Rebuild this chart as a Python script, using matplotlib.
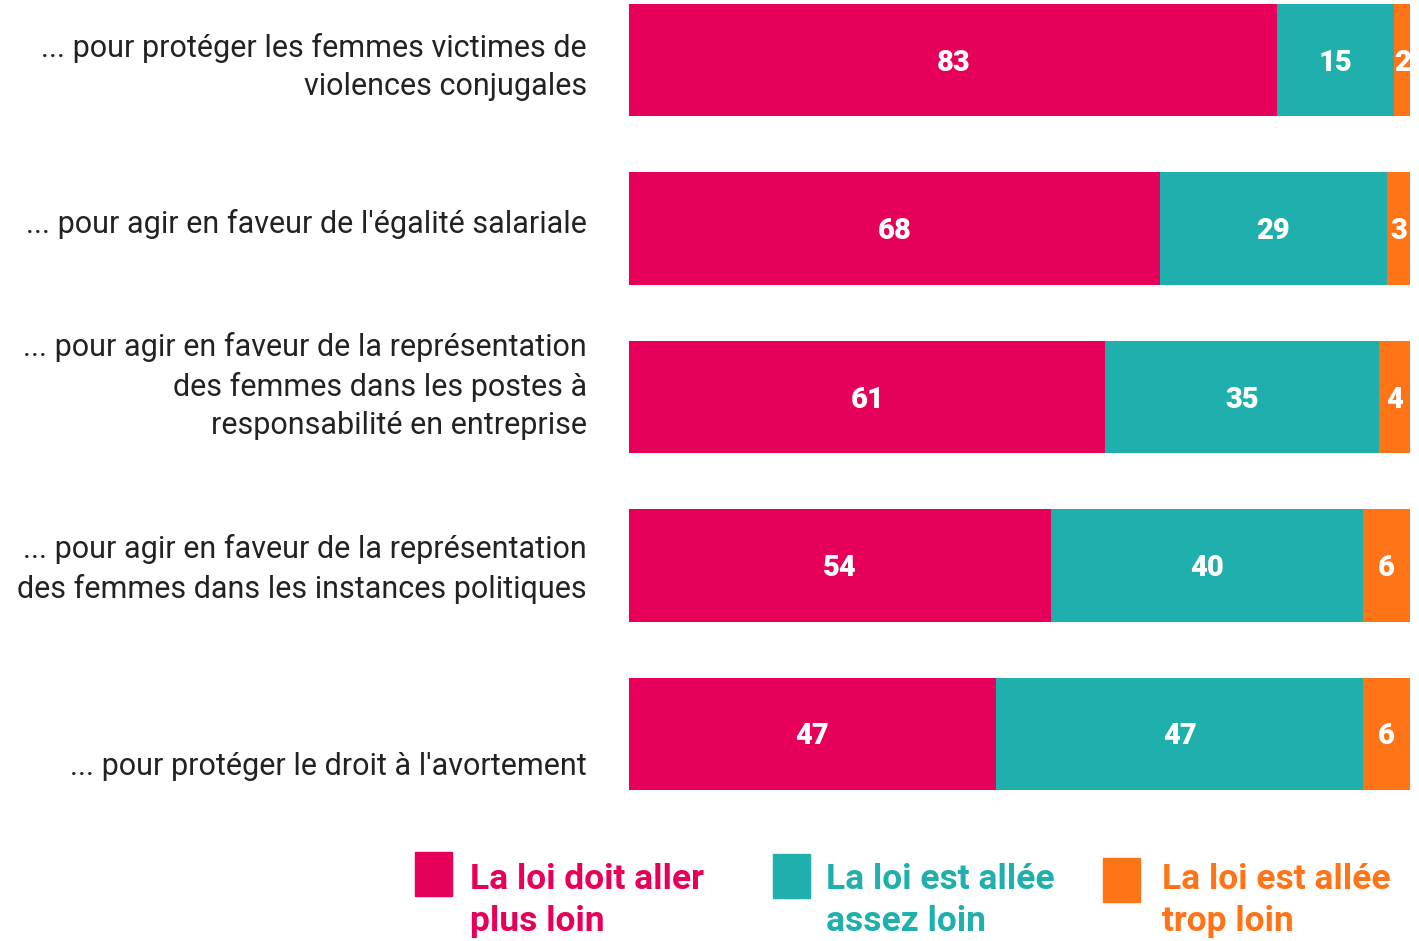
import matplotlib.pyplot as plt
from matplotlib.patches import Rectangle
from matplotlib.transforms import offset_copy

categories = [
    "... pour protéger les femmes victimes de\nviolences conjugales",
    "... pour agir en faveur de l'égalité salariale",
    "... pour agir en faveur de la représentation\ndes femmes dans les postes à\nresponsabilité en entreprise",
    "... pour agir en faveur de la représentation\ndes femmes dans les instances politiques",
    "... pour protéger le droit à l'avortement",
]
plus_loin = [83, 68, 61, 54, 47]
assez_loin = [15, 29, 35, 40, 47]
trop_loin = [2, 3, 4, 6, 6]
series_names = ["La loi doit aller\nplus loin", "La loi est allée\nassez loin", "La loi est allée\ntrop loin"]
colors = ["#E6005A", "#1FB0AE", "#FF7417"]

plt.rcParams['font.family'] = ['Roboto', 'DejaVu Sans']

W, H = 1419, 941
fig = plt.figure(figsize=(W / 100, H / 100), dpi=100)
ax = fig.add_axes([629 / W, 1 - 790 / H, 781 / W, 786 / H])

y = list(range(len(categories)))
left = [0] * len(categories)
for vals, col in zip([plus_loin, assez_loin, trop_loin], colors):
    bars = ax.barh(y, vals, left=left, height=0.667, color=col, clip_on=False)
    for yi, l, v in zip(y, left, vals):
        ax.text(l + v / 2, yi + 0.015, str(v), ha='center', va='center', color='white',
                fontsize=21, fontweight='black', clip_on=False)
    left = [a + b for a, b in zip(left, vals)]

ax.set_xlim(0, 100)
ax.set_ylim(len(categories) - 1 + 0.3335, -0.3335)
ax.axis('off')

# category labels, nudged vertically (pixels, down = positive) as in the original
label_dy = [7, -5, -11, 4, 33]
for yi, txt, dy in zip(y, categories, label_dy):
    tr = offset_copy(ax.transData, fig=fig, x=0, y=-dy * 0.72, units='points')
    ax.text(-42 / 781 * 100, yi, txt, transform=tr, ha='right', va='center',
            fontsize=22, color='#222222', linespacing=1.42, clip_on=False)

# legend
leg_sq = [(415, 852), (773, 854), (1103, 858)]
leg_tx = [470, 826, 1162]
for (sx, sy), tx, name, col in zip(leg_sq, leg_tx, series_names, colors):
    fig.add_artist(Rectangle((sx / W, 1 - (sy + 44) / H), 37 / W, 44 / H,
                             transform=fig.transFigure, color=col))
    fig.text(tx / W, 1 - 863 / H, name, ha='left', va='top', fontsize=25.5,
             fontweight='bold', color=col, linespacing=1.33)

fig.savefig('out.png', dpi=100)
